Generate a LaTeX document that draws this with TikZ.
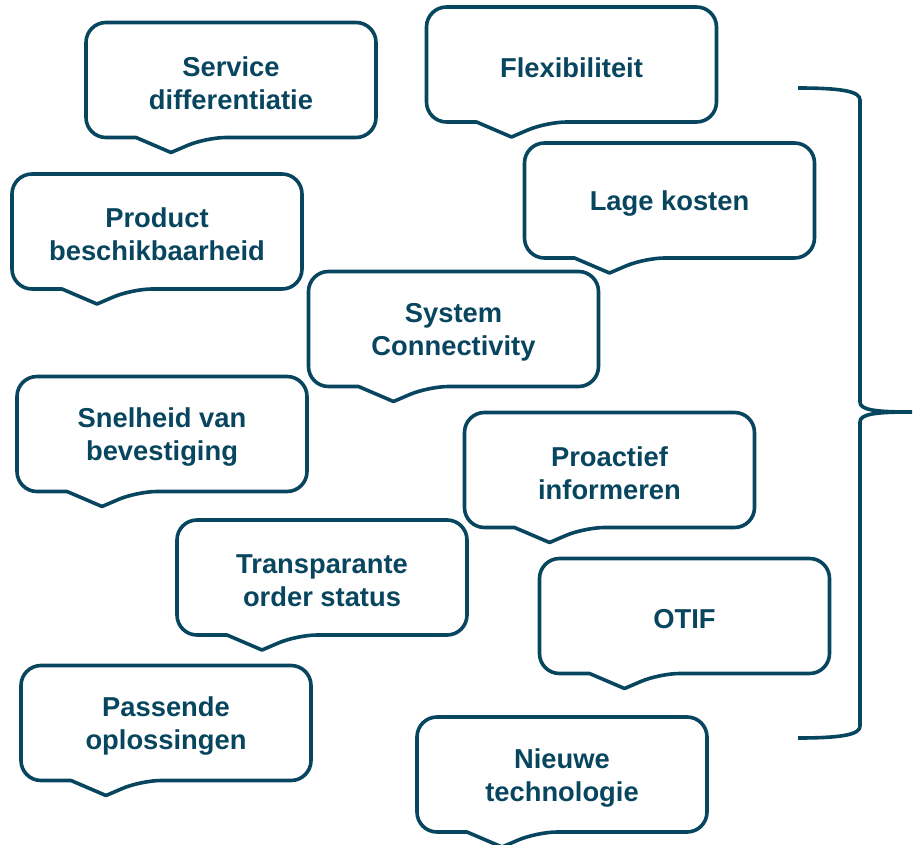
\documentclass[tikz,border=0pt]{standalone}
\usepackage{fontspec}
\setmainfont{Liberation Sans}
\usepackage{xcolor}
\usetikzlibrary{calc}
\definecolor{petrol}{RGB}{8,69,94}

\begin{document}
\begin{tikzpicture}[x=0.75pt, y=-0.75pt,
        bubble/.style={draw=petrol, line width=2.7pt, line join=round, line cap=round},
        bubbletext/.style={text=petrol, font=\fontsize{20.5}{24.75}\selectfont\bfseries,
            align=center, inner sep=0pt}]
        \useasboundingbox (0,0) rectangle (917,845);

        % Text of the callouts (slightly below the box centre)
        \node[bubbletext] (svc)    at (231,83)    {Service\\differentiatie};
        \node[bubbletext] (flex)   at (571.5,67.5) {Flexibiliteit};
        \node[bubbletext] (prod)   at (157,234.5) {Product\\beschikbaarheid};
        \node[bubbletext] (cost)   at (669.5,203.5) {Lage kosten};
        \node[bubbletext] (sys)    at (453.5,332) {System\\Connectivity};
        \node[bubbletext] (speed)  at (162,437)   {Snelheid van\\bevestiging};
        \node[bubbletext] (proact) at (609.5,473) {Proactief\\informeren};
        \node[bubbletext] (transp) at (322,580.5) {Transparante\\order status};
        \node[bubbletext] (otif)   at (684.5,619) {OTIF};
        \node[bubbletext] (fit)    at (166,726)   {Passende\\oplossingen};
        \node[bubbletext] (tech)   at (562,777.5) {Nieuwe\\technologie};

        % Callout outlines with tail
        \foreach \n in {svc,flex,prod,cost,sys,speed,proact,transp,otif,fit,tech}{
            \draw[bubble] ($(\n.center)+(-95,54.5)$)
                [rounded corners=15pt] -- ($(\n.center)+(-145,54.5)$)
                -- ($(\n.center)+(-145,-60.5)$) -- ($(\n.center)+(145,-60.5)$)
                -- ($(\n.center)+(145,54.5)$) -- ($(\n.center)+(-25,54.5)$)
                [sharp corners] -- ($(\n.center)+(-60,69.5)$) -- ($(\n.center)+(-95,54.5)$);
        }

        % Brace
        \coordinate (btop) at (798,88);
        \coordinate (btip) at (912,412);
        \coordinate (bbot) at (798,738);
        \draw[petrol, line width=2.7pt]
            (btop) .. controls (845,88) and (860,92) .. (860,100) -- (860,402)
            .. controls (860,410) and (875,412) .. (btip)
            .. controls (875,412) and (860,414) .. (860,422) -- (860,726)
            .. controls (860,734) and (845,738) .. (bbot);
\end{tikzpicture}
\end{document}
